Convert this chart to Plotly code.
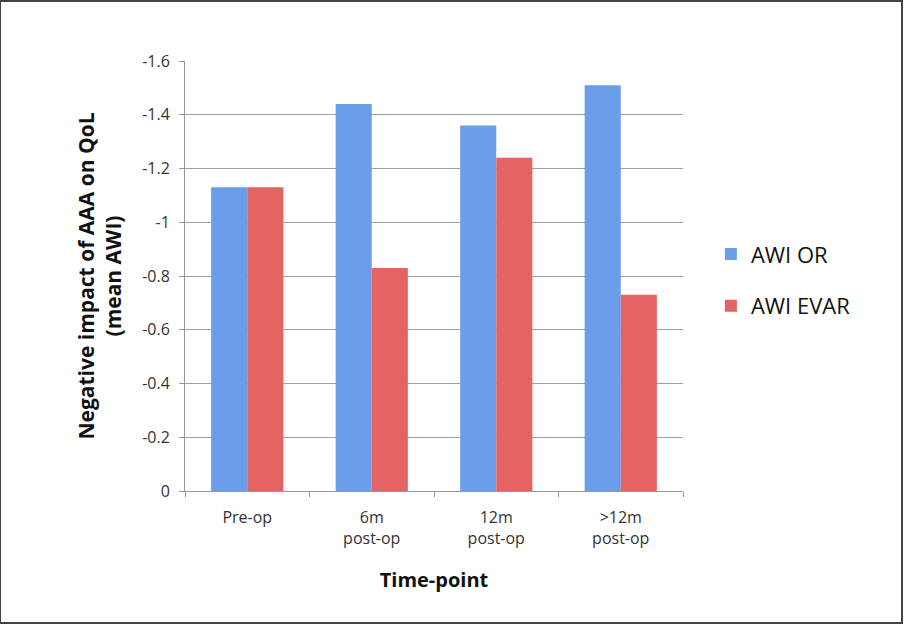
import plotly.graph_objects as go

categories = ["Pre-op", "6m<br>post-op", "12m<br>post-op", ">12m<br>post-op"]
awi_or = [-1.13, -1.44, -1.36, -1.51]
awi_evar = [-1.13, -0.83, -1.24, -0.73]
y_tick_vals = [0, -0.2, -0.4, -0.6, -0.8, -1.0, -1.2, -1.4, -1.6]
y_tick_text = ["0", "-0.2", "-0.4", "-0.6", "-0.8", "-1", "-1.2", "-1.4", "-1.6"]

FONT = "Open Sans"

fig = go.Figure()
fig.add_trace(go.Bar(x=categories, y=awi_or, name="AWI OR", legendgroup="a",
                     marker=dict(color="#6b9eea", line=dict(width=0))))
fig.add_trace(go.Bar(x=categories, y=awi_evar, name="AWI EVAR", legendgroup="b",
                     marker=dict(color="#e46464", line=dict(width=0))))

fig.update_layout(
    width=904, height=625,
    margin=dict(l=185, r=221, t=61, b=134),
    paper_bgcolor="white", plot_bgcolor="white",
    barmode="group", bargap=0.42, bargroupgap=0,
    font=dict(family=FONT, size=15, color="#222"),
    showlegend=True,
    legend=dict(x=1.056, y=0.49, xanchor="left", yanchor="middle",
                font=dict(size=22, color="#111"), tracegroupgap=20,
                traceorder="grouped", itemwidth=30),
    shapes=[dict(type="rect", xref="paper", yref="paper",
                 x0=-185/498, x1=1 + 219/498, y0=-132/430, y1=1 + 60/430,
                 line=dict(color="#444", width=2))],
)
fig.update_xaxes(
    showline=True, linecolor="#999", linewidth=1,
    ticks="outside", tickson="boundaries", ticklen=5, tickcolor="#999",
    tickfont=dict(size=16, color="#333"), ticklabelstandoff=12,
    title=dict(text="<b>Time-point</b>", font=dict(size=20, color="#111"), standoff=24),
)
fig.update_yaxes(
    range=[0, -1.6], tickvals=y_tick_vals, ticktext=y_tick_text,
    showline=True, linecolor="#999", linewidth=1,
    ticks="outside", ticklen=5, tickcolor="#999",
    showgrid=True, gridcolor="#a0a0a0", gridwidth=1,
    zeroline=False, ticklabelstandoff=6,
    tickfont=dict(size=16, color="#333"),
    title=dict(text="<b>Negative impact of AAA on QoL<br>(mean AWI)</b>",
               font=dict(size=21, color="#111"), standoff=14),
)

fig.write_html("out.html")
